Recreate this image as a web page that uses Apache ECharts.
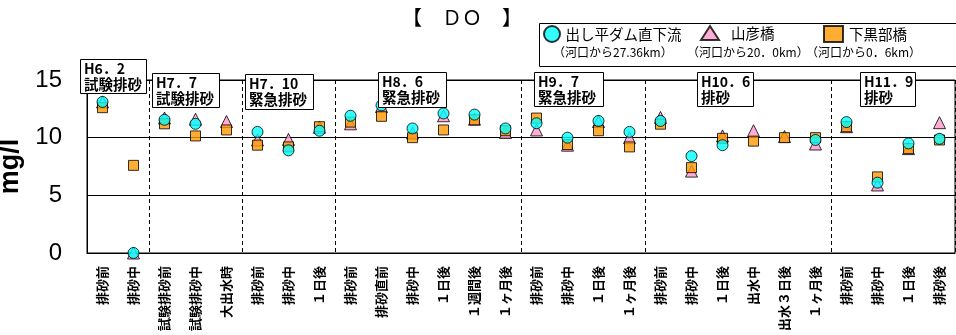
<!DOCTYPE html>
<html>
<head>
<meta charset="utf-8">
<script src="https://cdn.jsdelivr.net/npm/echarts@6/dist/echarts.min.js"></script>
<style>
  html, body { margin: 0; padding: 0; background: #fff; }
  #chart { width: 956px; height: 335px; }
</style>
</head>
<body>
<div id="chart"></div>
<script>
// Sampling occasions (grouped by flushing event)
const categories = [
  '排砂前', '排砂中',
  '試験排砂前', '試験排砂中', '大出水時',
  '排砂前', '排砂中', '１日後',
  '排砂前', '排砂直前', '排砂中', '１日後', '１週間後', '１ヶ月後',
  '排砂前', '排砂中', '１日後', '１ヶ月後',
  '排砂前', '排砂中', '１日後', '出水中', '出水３日後', '１ヶ月後',
  '排砂前', '排砂中', '１日後', '排砂後'
];

// DO (mg/l) at each station
const dashidaira = [13.1, 0, 11.55, 11.2, null, 10.5, 8.9, 10.6, 11.9, 12.8, 10.8, 12.1, 12.0, 10.8,
  11.25, 10.0, 11.45, 10.5, 11.45, 8.4, 9.35, null, null, 9.8, 11.35, 6.1, 9.5, 9.9];
const yamabiko = [13.1, 0, 11.7, 11.6, 11.4, 9.8, 9.85, 10.9, 11.2, 12.7, 10.4, 11.9, 11.6, 10.45,
  10.67, 9.35, 11.4, 10.0, 11.75, 7.1, 10.15, 10.6, 10.1, 9.45, 10.95, 5.9, 9.05, 11.3];
const shimokurobe = [12.6, 7.6, 11.2, 10.15, 10.67, 9.35, 9.2, 10.95, 11.35, 11.85, 10.0, 10.67, 11.55, 10.6,
  11.7, 9.4, 10.6, 9.2, 11.17, 7.4, 9.94, 9.7, 10.0, 10.0, 10.95, 6.6, 9.05, 9.8];

// First category index of each flushing event (event separators)
const eventStarts = [2, 5, 8, 14, 18, 24];

// Event labels
const events = [
  { x: 80,  y: 59, w: 66, h: 34, line1: 'H6．2',  line2: '試験排砂' },
  { x: 152, y: 73, w: 67, h: 34, line1: 'H7．7',  line2: '試験排砂' },
  { x: 245, y: 74, w: 68, h: 35, line1: 'H7．10', line2: '緊急排砂' },
  { x: 378, y: 72, w: 68, h: 35, line1: 'H8．6',  line2: '緊急排砂' },
  { x: 534, y: 72, w: 69, h: 34, line1: 'H9．7',  line2: '緊急排砂' },
  { x: 697, y: 72, w: 56, h: 34, line1: 'H10．6', line2: '排砂' },
  { x: 860, y: 72, w: 55, h: 34, line1: 'H11．9', line2: '排砂' }
];

const seriesNames = ['出し平ダム直下流', '山彦橋', '下黒部橋'];
const distances = ['（河口から27.36km）', '（河口から20．0km）', '（河口から0．6km）'];

const JP = '"Noto Sans CJK JP", sans-serif';

const chart = echarts.init(document.getElementById('chart'));

const graphics = [
  // legend frame
  { type: 'rect', shape: { x: 539.5, y: 23.5, width: 430, height: 43 },
    style: { fill: 'none', stroke: '#000', lineWidth: 1 }, z: 50 },
  { type: 'text', x: 553, y: 52, style: { text: distances[0], font: '12px ' + JP, fill: '#000', textVerticalAlign: 'middle' }, z: 50 },
  { type: 'text', x: 687, y: 52, style: { text: distances[1], font: '12px ' + JP, fill: '#000', textVerticalAlign: 'middle' }, z: 50 },
  { type: 'text', x: 806, y: 52, style: { text: distances[2], font: '12px ' + JP, fill: '#000', textVerticalAlign: 'middle' }, z: 50 }
];
events.forEach(e => {
  graphics.push({
    type: 'group', z: 100,
    children: [
      { type: 'rect', shape: { x: e.x + 0.5, y: e.y + 0.5, width: e.w, height: e.h },
        style: { fill: '#fff', stroke: '#000', lineWidth: 1 }, z: 100 },
      { type: 'text', x: e.x + 4, y: e.y + 10,
        style: { text: e.line1, font: 'bold 14px ' + JP, fill: '#000', textVerticalAlign: 'middle' }, z: 101 },
      { type: 'text', x: e.x + 4, y: e.y + 25,
        style: { text: e.line2, font: 'bold 14.5px ' + JP, fill: '#000', textVerticalAlign: 'middle' }, z: 101 }
    ]
  });
});

function legendFor(name, left, w, h, gap) {
  return {
    data: [name], left: left, top: 25, itemWidth: w, itemHeight: h, itemGap: 0,
    textStyle: { fontSize: 14.5, color: '#000', fontFamily: JP, padding: [0, 0, 0, gap] },
    padding: 0, selectedMode: false
  };
}

chart.setOption({
  animation: false,
  backgroundColor: '#fff',
  title: {
    text: '【　ＤＯ　】', left: 397, top: 2,
    textStyle: { fontSize: 20, fontWeight: 'normal', color: '#000', fontFamily: JP }
  },
  legend: [
    legendFor(seriesNames[0], 543, 17, 16, 0),
    legendFor(seriesNames[1], 700, 18, 14, 7),
    legendFor(seriesNames[2], 823, 19, 16, 1)
  ],
  grid: {
    left: 87, right: 1, top: 80, bottom: 82, show: true, borderColor: '#000', borderWidth: 1,
    containLabel: false, outerBoundsMode: 'none'
  },
  xAxis: {
    type: 'category', data: categories, boundaryGap: true,
    axisLine: { lineStyle: { color: '#000', width: 1 } },
    axisTick: { inside: true, length: 3, interval: 0, lineStyle: { color: '#000' } },
    axisLabel: {
      interval: 0, rotate: 90, margin: 13, color: '#000',
      fontSize: 13, fontWeight: 'bold', fontFamily: JP
    },
    splitLine: {
      show: true,
      interval: (i) => eventStarts.indexOf(i) >= 0,
      lineStyle: { color: '#000', type: [4, 3], width: 1 }
    }
  },
  yAxis: {
    type: 'value', min: 0, max: 15, interval: 5,
    name: 'mg/l', nameLocation: 'middle', nameRotate: 90, nameGap: 59,
    nameTextStyle: { fontSize: 27, fontWeight: 'bold', color: '#000', fontFamily: 'Liberation Sans, Arial' },
    axisLine: { show: true, lineStyle: { color: '#000' } },
    axisTick: { show: false },
    axisLabel: { fontSize: 24, color: '#000', margin: 25, fontFamily: 'Liberation Sans, Arial' },
    splitLine: { show: true, lineStyle: { color: '#000', width: 1 } }
  },
  graphic: graphics,
  series: [
    {
      name: seriesNames[1], type: 'scatter', data: yamabiko, symbol: 'triangle', symbolSize: 12,
      itemStyle: { color: '#FF99CC', borderColor: '#000', borderWidth: 1 }, z: 3
    },
    {
      name: seriesNames[2], type: 'scatter', data: shimokurobe, symbol: 'rect', symbolSize: 10,
      itemStyle: { color: '#FF9900', borderColor: '#000', borderWidth: 1 }, z: 4
    },
    {
      name: seriesNames[0], type: 'scatter', data: dashidaira, symbol: 'circle', symbolSize: 11,
      itemStyle: { color: '#00FFFF', borderColor: '#000', borderWidth: 1 }, z: 5
    }
  ]
});
</script>
</body>
</html>
